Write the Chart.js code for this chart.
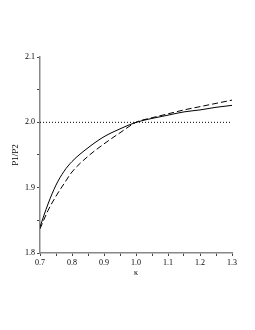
<!DOCTYPE html>
<html>
<head>
<meta charset="utf-8">
<script src="https://cdn.jsdelivr.net/npm/chart.js@4/dist/chart.umd.min.js"></script>
<style>
  html, body { margin: 0; padding: 0; background: #fff; }
  #wrap { width: 255px; height: 330px; }
</style>
</head>
<body>
<div id="wrap"><canvas id="myChart" width="255" height="330"></canvas></div>
<script>
// =====================
// Data
// =====================
const kappa = [0.70, 0.725, 0.75, 0.775, 0.80, 0.85, 0.90, 0.95, 1.00, 1.05, 1.10, 1.15, 1.20, 1.25, 1.30];
const ratioSolid = [1.840, 1.875, 1.904, 1.925, 1.940, 1.961, 1.978, 1.990, 2.000, 2.006, 2.011, 2.016, 2.019, 2.023, 2.026];
const ratioDashed = [1.837, 1.865, 1.887, 1.906, 1.924, 1.948, 1.967, 1.984, 2.000, 2.007, 2.013, 2.019, 2.024, 2.029, 2.034];
const refKappa = [0.70, 1.30];
const refRatio = [2.0, 2.0];
const xTickLabels = ['0.7', '0.8', '0.9', '1.0', '1.1', '1.2', '1.3'];
const yTickLabels = ['1.8', '1.9', '2.0', '2.1'];

function toPoints(xs, ys) {
    return xs.map((x, i) => ({x: x, y: ys[i]}));
}

// only the 0.1 steps get a label, the 0.05 ones are bare ticks
function majorLabel(value, labels) {
    const txt = value.toFixed(1);
    const isMajor = Math.abs(value * 10 - Math.round(value * 10)) < 1e-6;
    return isMajor && labels.includes(txt) ? txt : '';
}

const font = {family: '"Liberation Serif", "DejaVu Serif", serif', size: 8};

new Chart(document.getElementById('myChart').getContext('2d'), {
    type: 'line',
    data: {
        datasets: [
            {
                data: toPoints(refKappa, refRatio),
                borderColor: '#000',
                borderWidth: 1,
                borderDash: [1, 2],
                pointRadius: 0
            },
            {
                data: toPoints(kappa, ratioSolid),
                borderColor: '#000',
                borderWidth: 1,
                cubicInterpolationMode: 'monotone',
                pointRadius: 0
            },
            {
                data: toPoints(kappa, ratioDashed),
                borderColor: '#000',
                borderWidth: 1,
                borderDash: [6, 3],
                cubicInterpolationMode: 'monotone',
                pointRadius: 0
            }
        ]
    },
    options: {
        responsive: false,
        animation: false,
        layout: {padding: {left: 0, right: 23, top: 57, bottom: 52}},
        plugins: {
            legend: {display: false},
            tooltip: {enabled: false}
        },
        scales: {
            x: {
                type: 'linear',
                min: 0.7,
                max: 1.3,
                afterFit: scale => { scale.height = 25; },
                border: {display: true, color: '#888', width: 1.5},
                grid: {drawOnChartArea: false, tickLength: 3, color: '#444'},
                ticks: {
                    stepSize: 0.05,
                    autoSkip: false,
                    maxRotation: 0,
                    padding: 2,
                    color: '#000',
                    font: font,
                    callback: v => majorLabel(v, xTickLabels)
                },
                title: {display: true, text: 'κ', color: '#000', font: font, padding: {top: 0, bottom: 0}}
            },
            y: {
                min: 1.8,
                max: 2.1,
                afterFit: scale => { scale.width = 40; },
                border: {display: true, color: '#888', width: 1.5},
                grid: {drawOnChartArea: false, tickLength: 3, color: '#444'},
                ticks: {
                    stepSize: 0.05,
                    autoSkip: false,
                    padding: 2,
                    color: '#000',
                    font: font,
                    callback: v => majorLabel(v, yTickLabels)
                },
                title: {display: true, text: 'P1/P2', color: '#000', font: {family: font.family, size: 9}, padding: {top: 10, bottom: 0}}
            }
        }
    }
});
</script>
</body>
</html>
